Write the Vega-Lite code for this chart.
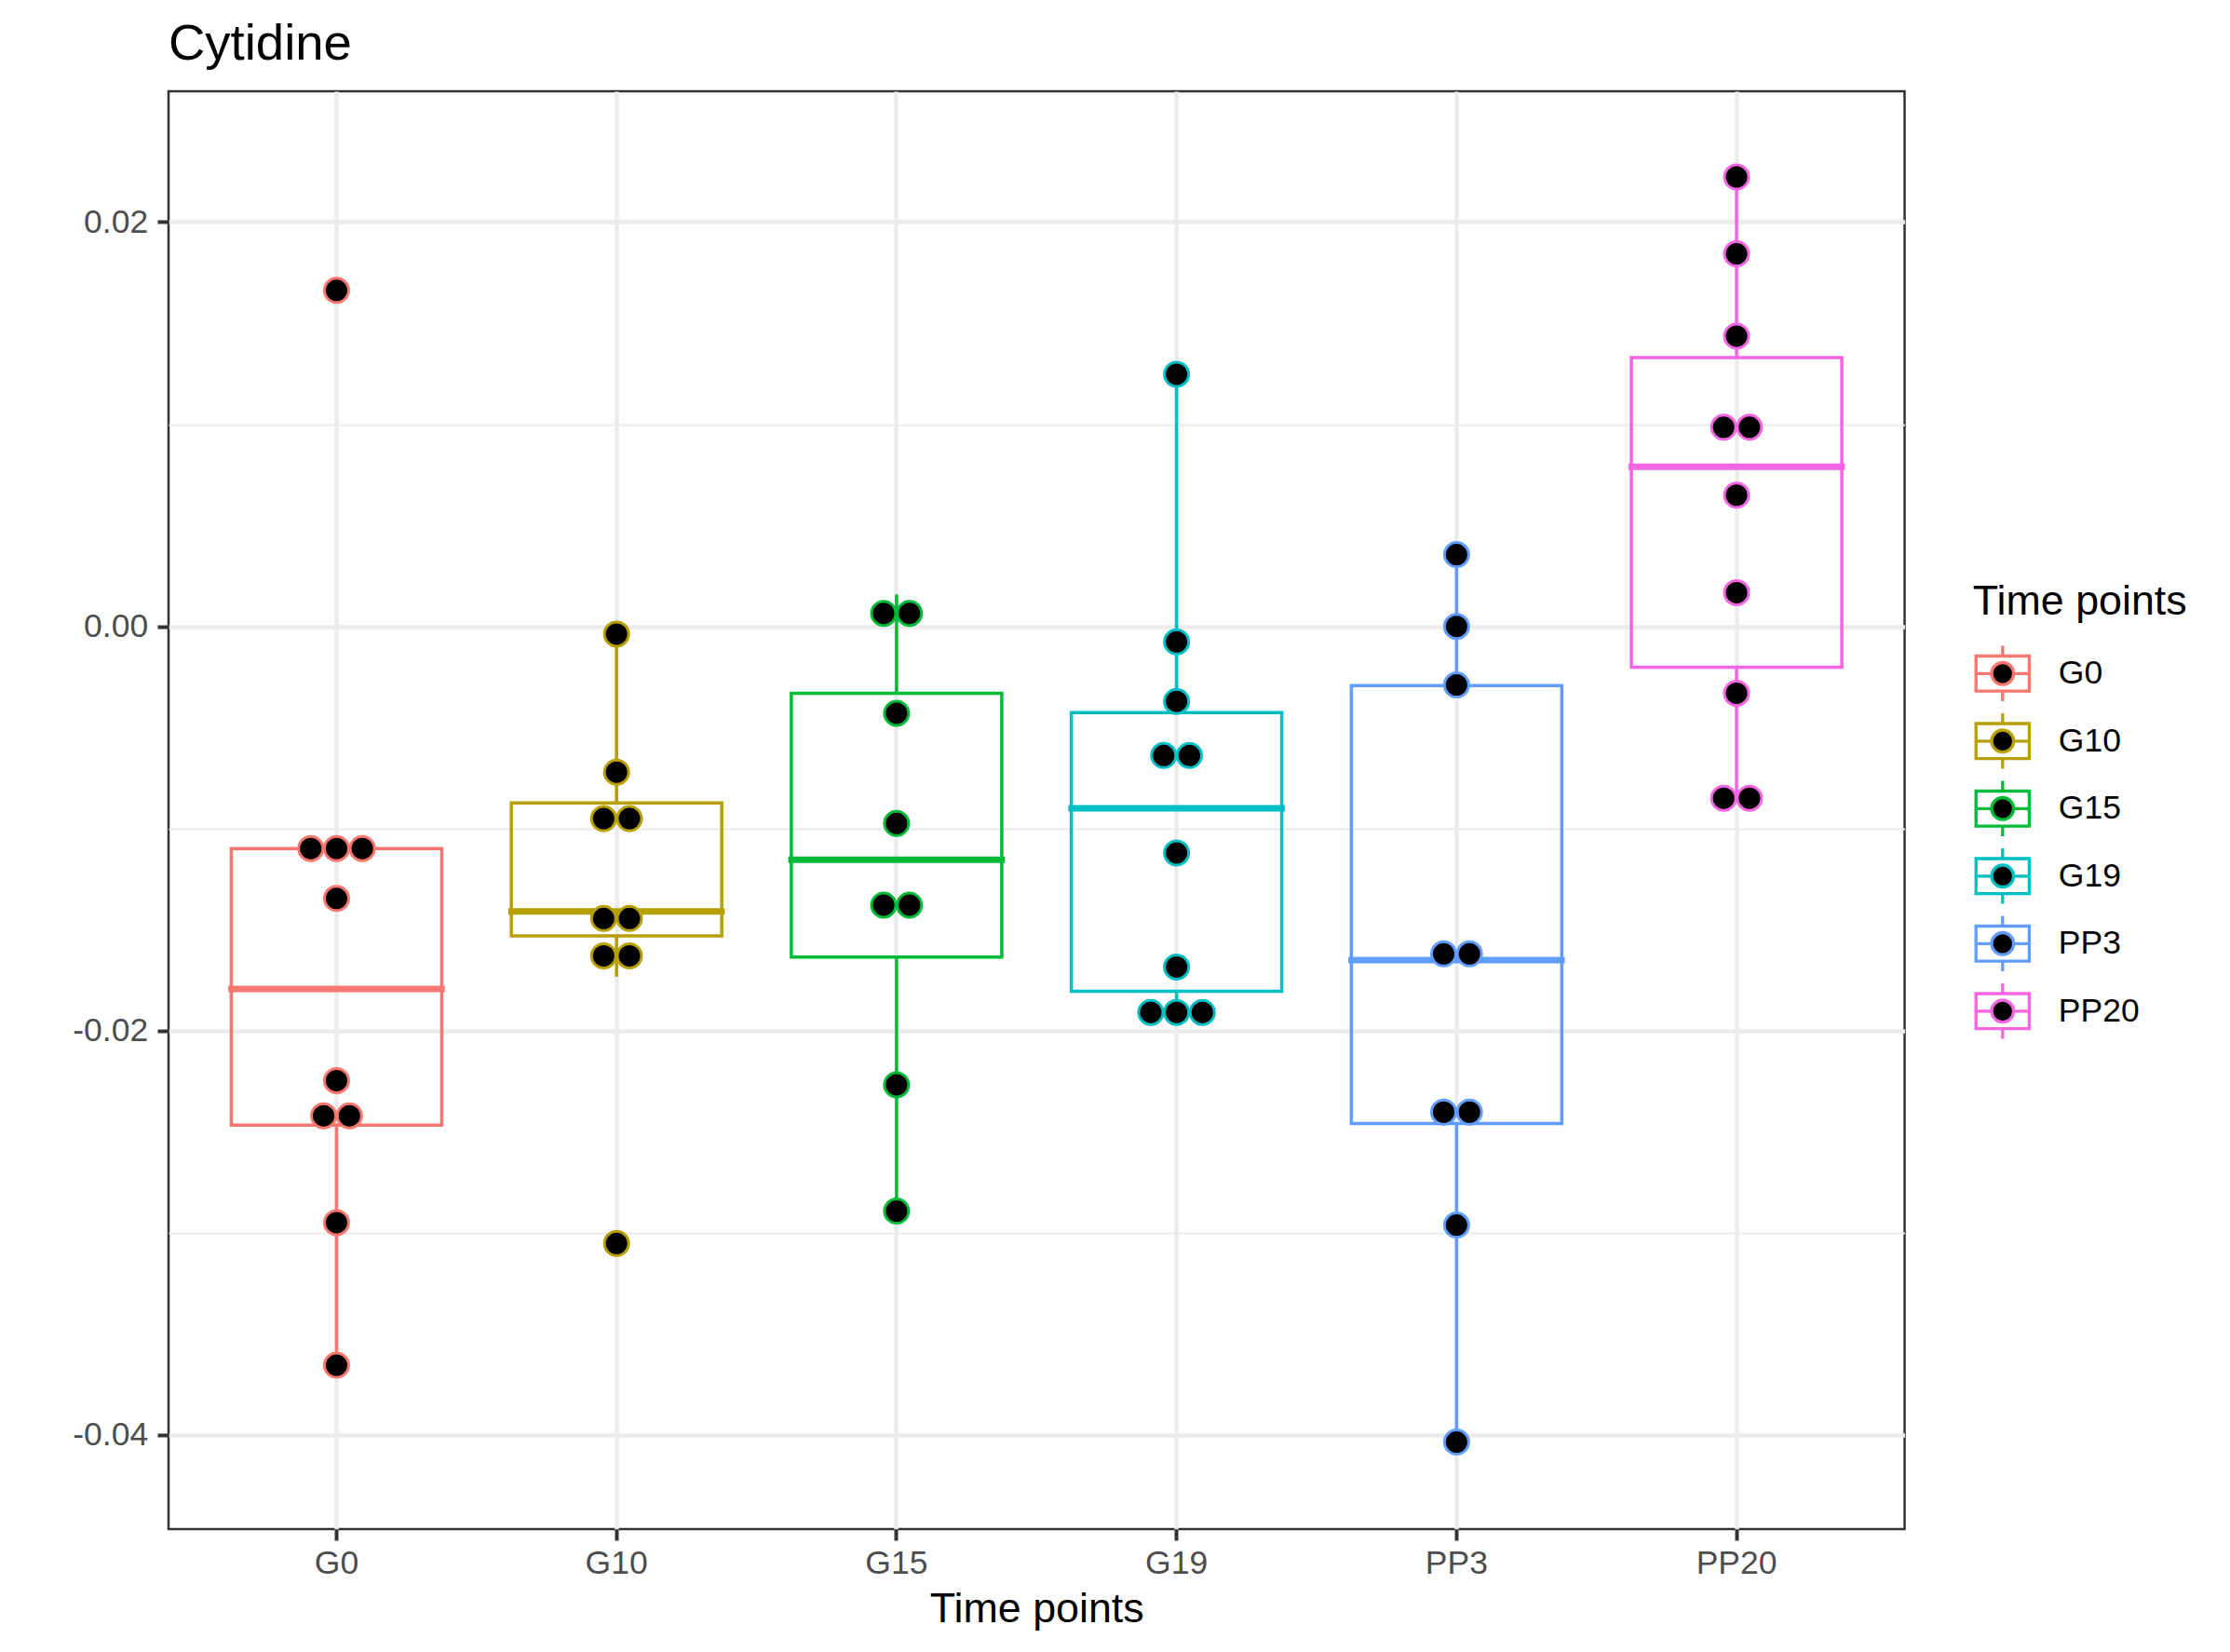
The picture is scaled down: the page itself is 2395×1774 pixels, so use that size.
{
  "$schema": "https://vega.github.io/schema/vega-lite/v6.json",
  "width": 1864.5,
  "height": 1544,
  "autosize": {"type": "none"},
  "padding": {"left": 181, "top": 98, "right": 349.5, "bottom": 132},
  "background": "white",
  "title": {"text": "Cytidine", "anchor": "start", "frame": "group", "fontSize": 54.5, "font": "Liberation Sans", "fontWeight": "normal", "color": "black", "baseline": "top", "offset": 23},
  "datasets": {
    "boxes": [
      {"group": "G0", "lower": -0.03655, "q1": -0.02467, "median": -0.01794, "q3": -0.01099, "upper": -0.01099},
      {"group": "G10", "lower": -0.01733, "q1": -0.01531, "median": -0.01410, "q3": -0.00874, "upper": -0.00038},
      {"group": "G15", "lower": -0.02893, "q1": -0.01636, "median": -0.01154, "q3": -0.00331, "upper": 0.00158},
      {"group": "G19", "lower": -0.01910, "q1": -0.01805, "median": -0.00900, "q3": -0.00427, "upper": 0.01247},
      {"group": "PP3", "lower": -0.04035, "q1": -0.02459, "median": -0.01651, "q3": -0.00293, "upper": 0.00355},
      {"group": "PP20", "lower": -0.00850, "q1": -0.00202, "median": 0.00790, "q3": 0.01330, "upper": 0.02223}
    ],
    "points": [
      {"group": "G0", "value": 0.01662},
      {"group": "G0", "value": -0.01099},
      {"group": "G0", "value": -0.01099},
      {"group": "G0", "value": -0.01099},
      {"group": "G0", "value": -0.01346},
      {"group": "G0", "value": -0.02247},
      {"group": "G0", "value": -0.02421},
      {"group": "G0", "value": -0.02421},
      {"group": "G0", "value": -0.02950},
      {"group": "G0", "value": -0.03655},
      {"group": "G10", "value": -0.00038},
      {"group": "G10", "value": -0.00721},
      {"group": "G10", "value": -0.00951},
      {"group": "G10", "value": -0.00951},
      {"group": "G10", "value": -0.01445},
      {"group": "G10", "value": -0.01445},
      {"group": "G10", "value": -0.01630},
      {"group": "G10", "value": -0.01630},
      {"group": "G10", "value": -0.03053},
      {"group": "G15", "value": 0.00064},
      {"group": "G15", "value": 0.00064},
      {"group": "G15", "value": -0.00430},
      {"group": "G15", "value": -0.00975},
      {"group": "G15", "value": -0.01379},
      {"group": "G15", "value": -0.01379},
      {"group": "G15", "value": -0.02268},
      {"group": "G15", "value": -0.02893},
      {"group": "G19", "value": 0.01247},
      {"group": "G19", "value": -0.00077},
      {"group": "G19", "value": -0.00371},
      {"group": "G19", "value": -0.00639},
      {"group": "G19", "value": -0.00639},
      {"group": "G19", "value": -0.01121},
      {"group": "G19", "value": -0.01685},
      {"group": "G19", "value": -0.01910},
      {"group": "G19", "value": -0.01910},
      {"group": "G19", "value": -0.01910},
      {"group": "PP3", "value": 0.00355},
      {"group": "PP3", "value": 0.00000},
      {"group": "PP3", "value": -0.00290},
      {"group": "PP3", "value": -0.01620},
      {"group": "PP3", "value": -0.01620},
      {"group": "PP3", "value": -0.02403},
      {"group": "PP3", "value": -0.02403},
      {"group": "PP3", "value": -0.02962},
      {"group": "PP3", "value": -0.04035},
      {"group": "PP20", "value": 0.02223},
      {"group": "PP20", "value": 0.01843},
      {"group": "PP20", "value": 0.01436},
      {"group": "PP20", "value": 0.00985},
      {"group": "PP20", "value": 0.00985},
      {"group": "PP20", "value": 0.00649},
      {"group": "PP20", "value": 0.00167},
      {"group": "PP20", "value": -0.00331},
      {"group": "PP20", "value": -0.00850},
      {"group": "PP20", "value": -0.00850}
    ]
  },
  "layer": [
    {
      "data": {"name": "boxes"},
      "mark": {"type": "rule", "strokeWidth": 3.5, "fill": "black"},
      "encoding": {
        "x": {
          "field": "group", "type": "nominal",
          "sort": ["G0", "G10", "G15", "G19", "PP3", "PP20"],
          "scale": {"paddingInner": 0, "paddingOuter": 0.1},
          "title": "Time points",
          "axis": {
            "labelAngle": 0, "domain": false, "grid": true, "gridColor": "#EBEBEB", "gridWidth": 4.4,
            "bandPosition": 0.5,
            "tickSize": 12, "tickWidth": 4, "tickColor": "#333333",
            "labelPadding": 7.5, "labelFontSize": 35.5, "labelColor": "#4D4D4D", "labelFont": "Liberation Sans",
            "titleFontSize": 44.8, "titleFont": "Liberation Sans", "titleFontWeight": "normal", "titleColor": "black", "titlePadding": 9
          }
        },
        "y": {
          "field": "lower", "type": "quantitative",
          "scale": {"domain": [-0.044657, 0.026472], "nice": false, "zero": false},
          "axis": {
            "title": null,
            "values": [-0.04, -0.03, -0.02, -0.01, 0, 0.01, 0.02],
            "labelExpr": "abs(round(datum.value*100)) % 2 == 0 ? replace(format(datum.value, '.2f'), '\u2212', '-') : ''",
            "domain": false, "grid": true, "gridColor": "#EBEBEB",
            "gridWidth": {"condition": {"test": "abs(round(datum.value*100)) % 2 == 1", "value": 2.2}, "value": 4.4},
            "tickOpacity": {"condition": {"test": "abs(round(datum.value*100)) % 2 == 1", "value": 0}, "value": 1},
            "tickSize": 12, "tickWidth": 4, "tickColor": "#333333",
            "labelPadding": 10.3, "labelFontSize": 35.5, "labelColor": "#4D4D4D", "labelFont": "Liberation Sans"
          }
        },
        "y2": {"field": "q1"},
        "stroke": {
          "field": "group", "type": "nominal",
          "scale": {"domain": ["G0", "G10", "G15", "G19", "PP3", "PP20"], "range": ["#F8766D", "#B79F00", "#00BA38", "#00BFC4", "#619CFF", "#F564E3"]},
          "legend": {
            "title": "Time points",
            "orient": "none", "legendX": 1937.8, "legendY": 527,
            "padding": 0,
            "titleFontSize": 44.8, "titleFont": "Liberation Sans", "titleFontWeight": "normal", "titleColor": "black", "titlePadding": 21.5, "titleLimit": 2000,
            "labelFontSize": 35.5, "labelFont": "Liberation Sans", "labelColor": "black", "labelOffset": 28, "labelLimit": 1000,
            "rowPadding": -1.5,
            "symbolType": "M-1.008,-0.627L1.008,-0.627M0.953,-0.627L0.953,0.627M1.008,0.627L-1.008,0.627M-0.953,0.627L-0.953,-0.627M0,-0.627L0,-0.99M0,0.627L0,0.99M-0.953,0L-0.393,0M0.393,0L0.953,0M0.393,0A0.393,0.393,0,1,1,-0.393,0A0.393,0.393,0,1,1,0.393,0Z",
            "symbolSize": 3600, "symbolStrokeWidth": 3.3, "symbolFillColor": "black", "symbolOpacity": 1,
            "encode": {"symbols": {"update": {"fill": {"value": "black"}, "fillOpacity": {"value": 1}}}}
          }
        }
      }
    },
    {
      "data": {"name": "boxes"},
      "mark": {"type": "rule", "strokeWidth": 3.5, "fill": "black"},
      "encoding": {
        "x": {"field": "group", "type": "nominal", "sort": ["G0", "G10", "G15", "G19", "PP3", "PP20"]},
        "y": {"field": "q3", "type": "quantitative"},
        "y2": {"field": "upper"},
        "stroke": {"field": "group", "type": "nominal"}
      }
    },
    {
      "data": {"name": "boxes"},
      "mark": {"type": "bar", "filled": false, "strokeWidth": 3.5, "width": 226, "strokeJoin": "miter"},
      "encoding": {
        "x": {"field": "group", "type": "nominal", "sort": ["G0", "G10", "G15", "G19", "PP3", "PP20"]},
        "y": {"field": "q1", "type": "quantitative"},
        "y2": {"field": "q3"},
        "stroke": {"field": "group", "type": "nominal"}
      }
    },
    {
      "data": {"name": "boxes"},
      "mark": {"type": "tick", "filled": false, "thickness": 0.5, "strokeWidth": 6.5, "size": 226, "opacity": 1},
      "encoding": {
        "x": {"field": "group", "type": "nominal", "sort": ["G0", "G10", "G15", "G19", "PP3", "PP20"]},
        "y": {"field": "median", "type": "quantitative"},
        "stroke": {"field": "group", "type": "nominal"}
      }
    },
    {
      "data": {"name": "points"},
      "transform": [
        {"window": [{"op": "row_number", "as": "k"}], "groupby": ["group", "value"]},
        {"joinaggregate": [{"op": "count", "as": "n"}], "groupby": ["group", "value"]},
        {"calculate": "datum.k - (datum.n + 1) / 2", "as": "slot"}
      ],
      "mark": {"type": "circle", "fill": "black", "size": 676, "strokeWidth": 3, "opacity": 1, "fillOpacity": 1},
      "encoding": {
        "x": {"field": "group", "type": "nominal", "sort": ["G0", "G10", "G15", "G19", "PP3", "PP20"]},
        "xOffset": {"field": "slot", "type": "quantitative", "scale": {"domain": [-1, 1], "range": [122.66, 178.06]}},
        "y": {"field": "value", "type": "quantitative"},
        "stroke": {"field": "group", "type": "nominal"}
      }
    }
  ],
  "config": {
    "view": {"stroke": "#333333", "strokeWidth": 2.5},
    "font": "Liberation Sans"
  }
}
